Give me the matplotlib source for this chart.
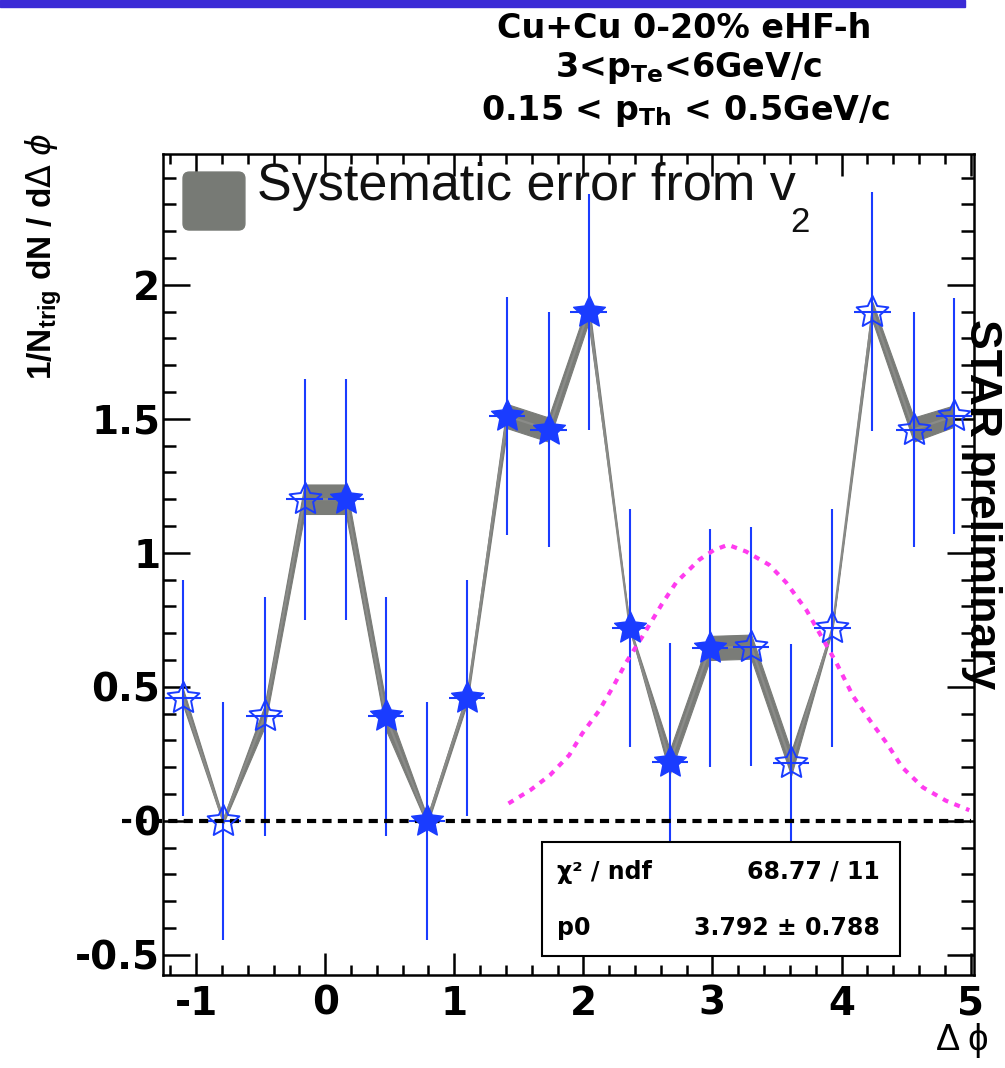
import matplotlib
matplotlib.use("Agg")
import matplotlib.pyplot as plt
from matplotlib.patches import FancyBboxPatch, Rectangle
from matplotlib.path import Path
from matplotlib.ticker import MultipleLocator, FixedLocator
import numpy as np

# ---- data -------------------------------------------------------------
# delta-phi bin centres (rad)
dphi = [-1.10, -0.79, -0.47, -0.16, 0.16, 0.47, 0.79, 1.10, 1.41, 1.73,
        2.04, 2.36, 2.67, 2.98, 3.30, 3.61, 3.93, 4.24, 4.56, 4.87]
# per-trigger associated yield
yields = [0.46, 0.00, 0.39, 1.20, 1.20, 0.39, 0.00, 0.46, 1.51, 1.46,
          1.90, 0.72, 0.22, 0.645, 0.65, 0.215, 0.72, 1.90, 1.46, 1.51]
# statistical errors
stat_err = [0.44, 0.445, 0.445, 0.45, 0.45, 0.445, 0.445, 0.44, 0.445, 0.44,
            0.44, 0.445, 0.445, 0.445, 0.445, 0.445, 0.445, 0.445, 0.44, 0.44]
# half bin width drawn as horizontal bar
dphi_bar = 0.14
# systematic uncertainty from v2 (half width of the band)
syst_v2 = [0.03, 0.01, 0.04, 0.055, 0.055, 0.05, 0.015, 0.02, 0.045, 0.045,
           0.04, 0.005, 0.045, 0.045, 0.045, 0.045, 0.005, 0.035, 0.045, 0.04]
# measured bins (filled) vs. reflected bins (open)
measured = [False, False, False, False, True, True, True, True, True, True,
            True, True, True, True, False, False, False, False, False, False]

# away-side fit function, sampled
fit_x = [1.42, 1.59, 1.74, 1.89, 1.99, 2.12, 2.23, 2.33, 2.46, 2.61, 2.72,
         2.90, 3.01, 3.12, 3.26, 3.44, 3.57, 3.73, 3.83, 3.96, 4.09, 4.22,
         4.35, 4.47, 4.63, 4.81, 4.99]
fit_y = [0.065, 0.115, 0.17, 0.245, 0.325, 0.41, 0.50, 0.59, 0.69, 0.81, 0.89,
         0.975, 1.01, 1.03, 1.005, 0.955, 0.89, 0.785, 0.70, 0.59, 0.465, 0.375,
         0.29, 0.20, 0.125, 0.075, 0.04]

zero_line_x = [-1.571, 5.0]

xticks = [-1, 0, 1, 2, 3, 4, 5]
yticks = [-0.5, 0, 0.5, 1, 1.5, 2]
ytick_labels = ["-0.5", "0", "0.5", "1", "1.5", "2"]

chi2_text = "68.77 / 11"
p0_text = "3.792 \u00b1 0.788"

BLUE = "#1a3cff"
GREY_BAND = "#7a7c78"
GREY_LINE = "#8a8b88"
PINK = "#ff3bef"


def star_marker(inner=0.48):
    """Five-pointed star path with a fairly broad body."""
    ang = np.pi / 2 + np.arange(10) * np.pi / 5
    rad = np.where(np.arange(10) % 2 == 0, 1.0, inner)
    verts = np.column_stack([rad * np.cos(ang), rad * np.sin(ang)])
    verts = np.vstack([verts, verts[:1]])
    codes = [Path.MOVETO] + [Path.LINETO] * 9 + [Path.CLOSEPOLY]
    return Path(verts, codes)


STAR = star_marker()

fig = plt.figure(figsize=(10.05, 10.68), dpi=100)
fig.patch.set_facecolor("white")

# banner strip along the top edge
fig.patches.append(Rectangle((0, 1 - 7 / 1068), 965 / 1005, 7 / 1068,
                             transform=fig.transFigure, color="#3b2bd6",
                             zorder=0))

ax = fig.add_axes([0.16219, 0.08708, 0.80697, 0.76873])
ax.set_xlim(-1.2566, 5.0265)
ax.set_ylim(-0.575, 2.488)

x = np.array(dphi)
y = np.array(yields)
ey = np.array(stat_err)
sv = np.array(syst_v2)
m = np.array(measured)

# systematic band and connecting line
ax.fill_between(x, y - sv, y + sv, color=GREY_BAND, lw=0.8, edgecolor=GREY_BAND,
                zorder=2)
ax.plot(x, y, color=GREY_LINE, lw=1.6, zorder=2.5)

# statistical error bars
ax.errorbar(x, y, yerr=ey, xerr=dphi_bar, fmt="none", ecolor=BLUE,
            elinewidth=1.5, capsize=0, zorder=3)

# zero line
ax.plot(zero_line_x, [0, 0], color="black", lw=3,
        linestyle=(0, (2.2, 1.5)), clip_on=False, zorder=3.5)

# fit function
ax.plot(fit_x, fit_y, color=PINK, lw=3, linestyle=(0, (1.4, 1.6)),
        zorder=3.6)

# markers
ax.plot(x[m], y[m], linestyle="none", marker=STAR, ms=24, mfc=BLUE,
        mec=BLUE, mew=1.0, zorder=4)
ax.plot(x[~m], y[~m], linestyle="none", marker=STAR, ms=24, mfc="none",
        mec=BLUE, mew=1.4, zorder=4)

# axes styling
for s in ax.spines.values():
    s.set_linewidth(1.8)
ax.xaxis.set_major_locator(FixedLocator(xticks))
ax.xaxis.set_minor_locator(MultipleLocator(0.2))
ax.yaxis.set_major_locator(FixedLocator(yticks))
ax.yaxis.set_minor_locator(MultipleLocator(0.1))
ax.set_yticklabels(ytick_labels)
ax.set_xticklabels([str(t) for t in xticks])
ax.tick_params(which="both", direction="in", top=True, right=True, width=1.8)
ax.tick_params(axis="y", which="major", length=19.5, pad=2)
ax.tick_params(axis="y", which="minor", length=9.5)
ax.tick_params(axis="x", which="major", length=16, pad=7)
ax.tick_params(axis="x", which="minor", length=7.5)
for lab in ax.get_xticklabels() + ax.get_yticklabels():
    lab.set_fontfamily("DejaVu Sans")
    lab.set_fontweight("bold")
    lab.set_fontsize(28)

# legend entry
ax.add_patch(FancyBboxPatch((0.0247, 0.9074), 0.0763, 0.0706,
                            boxstyle="round,pad=0,rounding_size=0.008",
                            transform=ax.transAxes, color="#777a75",
                            zorder=6))
ax.text(0.116, 0.961, "Systematic error from v", transform=ax.transAxes,
        fontsize=37.5, family="Liberation Sans", color="#111111",
        ha="left", va="center", zorder=6)
ax.text(0.773, 0.917, "2", transform=ax.transAxes,
        fontsize=25, family="Liberation Sans", color="#111111",
        ha="left", va="center", zorder=6)

# fit statistics box
ax.add_patch(Rectangle((0.467, 0.0231), 0.4418, 0.1393,
                       transform=ax.transAxes, facecolor="white",
                       edgecolor="black", lw=1.5, zorder=10))
stat_kw = dict(transform=ax.transAxes, fontsize=17, fontweight="bold",
               family="DejaVu Sans", va="center", zorder=11)
ax.text(0.4858, 0.1255, "\u03c7\u00b2 / ndf", ha="left", **stat_kw)
ax.text(0.884, 0.1255, chi2_text, ha="right", **stat_kw)
ax.text(0.4858, 0.0572, "p0", ha="left", **stat_kw)
ax.text(0.884, 0.0572, p0_text, ha="right", **stat_kw)

# axis titles
fig.text(0.0229, 0.760, r"1/N$_{\mathregular{trig}}$ dN / d$\Delta$ $\phi$",
         rotation=90, ha="left", va="center", fontsize=24,
         fontweight="bold", family=["Liberation Sans", "DejaVu Sans"])
fig.text(0.983, 0.026, "\u0394 \u03d5", ha="right", va="center",
         fontsize=26, family=["Liberation Sans", "DejaVu Sans"])
fig.text(0.9975, 0.528, "STAR preliminary", rotation=270, ha="right",
         va="center", fontsize=32, fontweight="bold",
         family=["Liberation Sans", "DejaVu Sans"])

# header
head_kw = dict(ha="center", va="center", fontsize=24, fontweight="bold",
               family="DejaVu Sans")
fig.text(0.681, 1 - 28 / 1068, "Cu+Cu 0-20% eHF-h", **head_kw)
fig.text(0.685, 1 - 68 / 1068, r"3<p$_{\mathregular{Te}}$<6GeV/c", **head_kw)
fig.text(0.682, 1 - 111 / 1068,
         r"0.15 < p$_{\mathregular{Th}}$ < 0.5GeV/c", **head_kw)

fig.savefig("out.png", dpi=100, facecolor="white")
